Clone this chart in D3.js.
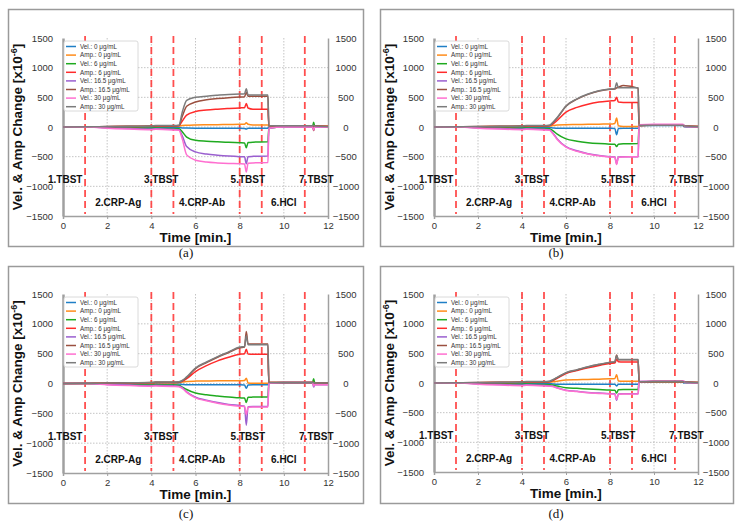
<!DOCTYPE html>
<html><head><meta charset="utf-8">
<script src="https://cdn.jsdelivr.net/npm/d3@7"></script>
<style>body{margin:0;background:#fff}svg{display:block}</style>
</head><body>
<svg id="chart" width="743" height="525"></svg>
<script>
// ---------------- DATA ----------------
const TIME = [0,1.2,2,3,4,4.2,5,5.25,5.4,5.6,6,6.5,7,7.5,8,8.22,8.3,8.38,8.6,9.28,9.32,10,11,11.3,11.35,11.4,12];

const SERIES_NAMES = ["Vel.: 0 μg/mL","Amp.: 0 μg/mL","Vel.: 6 μg/mL","Amp.: 6 μg/mL",
                      "Vel.: 16.5 μg/mL","Amp.: 16.5 μg/mL","Vel.: 30 μg/mL","Amp.: 30 μg/mL"];

// Panel (a)
const aVel0  = [0,0,-5,-8,-10,-10,-10,-10,-15,-18,-20,-20,-20,-22,-22,-25,-35,-22,-20,-20,0,5,5,5,10,5,0];
const aAmp0  = [0,2,5,8,10,15,12,15,25,30,35,38,40,42,45,45,70,45,35,35,20,20,20,20,30,20,15];
const aVel6  = [0,0,-10,-15,-20,-15,-25,-30,-80,-170,-225,-240,-250,-258,-265,-268,-350,-262,-255,-250,-20,0,0,0,80,10,0];
const aAmp6  = [0,2,5,8,12,15,15,20,100,200,260,285,300,312,322,325,395,320,300,300,20,20,20,20,20,15,10];
const aVel16 = [0,0,-15,-25,-35,-30,-40,-45,-150,-330,-420,-455,-475,-490,-500,-502,-620,-500,-495,-490,-20,0,0,0,-40,0,0];
const aAmp16 = [0,3,8,12,15,20,20,25,180,350,420,460,480,495,505,510,580,520,520,520,20,20,20,20,-60,15,10];
const aVel30 = [0,0,-20,-35,-45,-40,-50,-55,-200,-470,-560,-590,-605,-615,-620,-625,-760,-610,-605,-600,-20,0,0,0,-50,0,0];
const aAmp30 = [0,3,8,12,18,25,25,30,250,450,500,520,535,548,555,560,645,540,540,540,20,20,20,20,30,15,10];

// Panel (b)
const bVel0  = [0,0,-5,-8,-10,-10,-10,-10,-15,-20,-20,-20,-22,-22,-22,-25,-130,-25,-22,-22,20,25,25,25,10,5,0];
const bAmp0  = [0,2,5,8,10,15,12,15,25,35,40,42,45,48,50,60,150,20,10,8,25,30,30,30,25,15,10];
const bVel6  = [0,0,-10,-15,-20,-15,-25,-30,-60,-120,-200,-240,-265,-280,-290,-292,-330,-290,-282,-280,30,35,35,35,30,10,5];
const bAmp6  = [0,2,5,8,12,15,15,20,50,110,250,330,385,420,440,448,500,420,415,415,25,30,30,30,25,15,10];
const bVel16 = [0,0,-15,-25,-35,-30,-40,-45,-100,-200,-330,-400,-450,-480,-500,-505,-620,-505,-500,-500,35,40,40,40,30,10,5];
const bAmp16 = [0,3,8,12,15,20,20,25,70,150,350,470,550,605,635,640,660,670,700,655,25,30,30,30,25,15,10];
const bVel30 = [0,0,-20,-35,-45,-40,-50,-55,-110,-210,-340,-410,-455,-485,-505,-510,-630,-510,-505,-500,40,45,45,45,40,10,5];
const bAmp30 = [0,3,8,12,18,25,25,30,75,160,355,475,555,610,640,645,745,660,660,660,25,30,30,30,25,15,10];

// Panel (c)
const cVel0  = [0,0,-5,-8,-10,-10,-10,-10,-15,-20,-20,-20,-22,-22,-22,-25,-80,-25,-22,-22,10,10,10,10,0,5,0];
const cAmp0  = [0,2,5,8,10,15,12,15,25,35,40,42,45,45,45,50,90,10,5,5,15,15,15,15,15,10,10];
const cVel6  = [0,0,-10,-15,-20,-15,-25,-30,-60,-100,-160,-190,-210,-228,-240,-245,-320,-230,-228,-225,10,15,15,15,80,10,5];
const cAmp6  = [0,2,5,8,12,15,15,20,35,80,200,300,380,440,490,500,575,495,490,490,15,15,15,15,15,10,10];
const cVel16 = [0,0,-15,-25,-35,-30,-40,-45,-70,-140,-230,-280,-320,-350,-370,-380,-700,-390,-385,-385,10,15,15,15,-60,-15,-20];
const cAmp16 = [0,3,8,12,15,20,20,25,45,100,250,350,440,520,600,610,870,660,660,660,15,15,15,15,15,10,10];
const cVel30 = [0,0,-20,-35,-45,-40,-50,-55,-80,-150,-240,-290,-330,-360,-380,-385,-520,-400,-395,-395,10,15,15,15,-40,-15,-20];
const cAmp30 = [0,3,8,12,18,25,25,30,50,110,260,360,450,530,610,620,800,650,650,650,15,15,15,15,15,10,10];

// Panel (d)
const dVel0  = [0,0,-5,-8,-10,-10,-10,-10,-15,-20,-20,-20,-20,-20,-20,-22,-50,-20,-20,-20,15,15,15,15,0,5,0];
const dAmp0  = [0,2,5,8,10,15,12,15,20,30,50,55,60,65,70,75,140,35,30,30,20,20,20,20,20,15,10];
const dVel6  = [0,0,-10,-15,-20,-15,-25,-30,-35,-50,-80,-90,-100,-110,-120,-122,-170,-115,-110,-110,20,25,25,25,20,10,0];
const dAmp6  = [0,2,5,8,12,15,15,20,40,80,160,210,255,295,330,335,400,360,355,355,20,25,25,25,20,15,10];
const dVel16 = [0,0,-15,-25,-35,-30,-40,-45,-55,-80,-120,-140,-160,-170,-180,-182,-290,-185,-180,-180,25,30,30,30,25,10,5];
const dAmp16 = [0,3,8,12,15,20,20,25,50,90,170,220,270,310,345,355,470,390,390,390,20,25,25,25,20,15,10];
const dVel30 = [0,0,-20,-35,-45,-40,-50,-55,-60,-85,-125,-145,-165,-175,-185,-188,-280,-190,-185,-185,25,30,30,30,40,10,5];
const dAmp30 = [0,3,8,12,18,25,25,30,55,95,175,225,275,315,350,360,460,395,395,395,20,25,25,25,20,15,10];

const X_TICKS = [0,2,4,6,8,10,12];
const Y_TICKS = [-1500,-1000,-500,0,500,1000,1500];
const STEP_LINES = [1,4,5,8,9,10.95];
const STEP_LABELS = ["1.TBST","2.CRP-Ag","3.TBST","4.CRP-Ab","5.TBST","6.HCl","7.TBST"];
const STEP_LABEL_T = [0.1,2.5,4.45,6.3,8.37,10.0,11.47];
const STEP_LABEL_V = [-880,-1280,-880,-1280,-880,-1280,-880];
const CAPTIONS = ["(a)","(b)","(c)","(d)"];

const PANEL_DATA = [
  [aVel0,aAmp0,aVel6,aAmp6,aVel16,aAmp16,aVel30,aAmp30],
  [bVel0,bAmp0,bVel6,bAmp6,bVel16,bAmp16,bVel30,bAmp30],
  [cVel0,cAmp0,cVel6,cAmp6,cVel16,cAmp16,cVel30,cAmp30],
  [dVel0,dAmp0,dVel6,dAmp6,dVel16,dAmp16,dVel30,dAmp30]
];

// ---------------- STYLE / LAYOUT ----------------
const COLORS = ["#1f7fc6","#ff8c1a","#1faa1f","#ff2b2b","#9a5fcf","#9b5040","#ff6fd0","#7c7c7c"];
const LAYOUT = [
  {box:[8,9,355,237],   plot:[63,328,38,216],   capX:186, capY:257},
  {box:[380,9,353,237], plot:[434,698,38,216],  capX:556, capY:257},
  {box:[8,266,355,237], plot:[63,328,294,473],  capX:186, capY:518},
  {box:[380,266,353,237],plot:[434,698,294,472],capX:556, capY:518}
];
const FONT = "Liberation Sans, Arial, sans-serif";

const svg = d3.select("#chart");

PANEL_DATA.forEach((seriesSet, pi) => {
  const L = LAYOUT[pi];
  const [px0, px1, py0, py1] = L.plot;
  const g = svg.append("g");

  // outer frame
  g.append("rect").attr("x",L.box[0]+0.5).attr("y",L.box[1]+0.5)
    .attr("width",L.box[2]).attr("height",L.box[3])
    .attr("fill","none").attr("stroke","#9a9a9a").attr("stroke-width",1.5);

  const x = d3.scaleLinear().domain([0,12]).range([px0,px1]);
  const y = d3.scaleLinear().domain([-1500,1500]).range([py1,py0]);

  // grid
  const grid = g.append("g").attr("stroke","#b5b5b5").attr("stroke-width",0.8).attr("stroke-dasharray","1.5,1.5");
  X_TICKS.filter(t=>t>0 && t<12).forEach(t=>{
    grid.append("line").attr("x1",x(t)).attr("x2",x(t)).attr("y1",py0).attr("y2",py1);
  });
  Y_TICKS.filter(v=>v>-1500 && v<1500).forEach(v=>{
    grid.append("line").attr("x1",px0).attr("x2",px1).attr("y1",y(v)).attr("y2",y(v));
  });

  // axes
  const fmt = d3.format("d");
  const bottom = g.append("g").attr("transform",`translate(0,${py1})`)
    .call(d3.axisBottom(x).tickValues(X_TICKS).tickFormat(fmt).tickSize(3).tickPadding(3));
  const left = g.append("g").attr("transform",`translate(${px0},0)`)
    .call(d3.axisLeft(y).tickValues(Y_TICKS).tickFormat(fmt).tickSize(0).tickPadding(10));
  const right = g.append("g").attr("transform",`translate(${px1},0)`)
    .call(d3.axisRight(y).tickValues(Y_TICKS).tickFormat(fmt).tickSize(0).tickPadding(18));
  [bottom,left,right].forEach(a=>{
    a.selectAll("text").attr("font-family",FONT).attr("font-size",9.5).attr("fill","#333");
    a.select(".domain").attr("stroke","#a0a0a0").attr("stroke-width",1.5);
    a.selectAll(".tick line").attr("stroke","#a0a0a0");
  });
  right.selectAll("text").attr("text-anchor","middle");
  left.select(".domain").attr("stroke-width",2.5);

  // step dashed lines
  STEP_LINES.forEach(t=>{
    g.append("line").attr("x1",x(t)).attr("x2",x(t)).attr("y1",py0-2).attr("y2",py1-2)
      .attr("stroke","#ff3030").attr("stroke-opacity",0.85).attr("stroke-width",1.8)
      .attr("stroke-dasharray","7,4");
  });

  // series
  const line = d3.line().x((d,i)=>x(TIME[i])).y(d=>y(d)).curve(d3.curveMonotoneX);
  seriesSet.forEach((vals, si) => {
    g.append("path").datum(vals).attr("d",line).attr("fill","none")
      .attr("stroke",COLORS[si]).attr("stroke-width",1.5);
  });

  // step labels
  STEP_LABELS.forEach((lab,i)=>{
    g.append("text").attr("x",x(STEP_LABEL_T[i])).attr("y",y(STEP_LABEL_V[i]))
      .attr("dy","0.35em").attr("text-anchor","middle")
      .attr("font-family",FONT).attr("font-weight","bold").attr("font-size",10)
      .attr("fill","#111").text(lab);
  });

  // legend
  const lg = g.append("g").attr("transform",`translate(${px0+1},${py0+3})`);
  lg.append("rect").attr("width",74).attr("height",70).attr("rx",2)
    .attr("fill","#fff").attr("stroke","#d0d0d0").attr("stroke-width",0.8);
  SERIES_NAMES.forEach((nm,si)=>{
    const yy = 5.5 + si*8.6;
    lg.append("line").attr("x1",2).attr("x2",12).attr("y1",yy).attr("y2",yy)
      .attr("stroke",COLORS[si]).attr("stroke-width",1.5);
    lg.append("text").attr("x",16).attr("y",yy).attr("dy","0.35em")
      .attr("font-family",FONT).attr("font-size",6.3).attr("fill","#333").text(nm);
  });

  // axis titles
  g.append("text").attr("x",(px0+px1)/2).attr("y",py1+26)
    .attr("text-anchor","middle").attr("font-family",FONT).attr("font-weight","bold")
    .attr("font-size",13.5).attr("fill","#111").text("Time [min.]");
  const yl = g.append("text")
    .attr("transform",`translate(${L.box[0]+14},${(py0+py1)/2}) rotate(-90)`)
    .attr("text-anchor","middle").attr("font-family",FONT).attr("font-weight","bold")
    .attr("font-size",13.5).attr("fill","#111");
  yl.append("tspan").text("Vel. & Amp Change [x10");
  yl.append("tspan").attr("font-size",9).attr("dy",-5).text("-6");
  yl.append("tspan").attr("dy",5).text("]");

  // caption
  svg.append("text").attr("x",L.capX).attr("y",L.capY).attr("text-anchor","middle")
    .attr("font-family","Liberation Serif, Times New Roman, serif").attr("font-size",13)
    .attr("fill","#111").text(CAPTIONS[pi]);
});
</script>
</body></html>
